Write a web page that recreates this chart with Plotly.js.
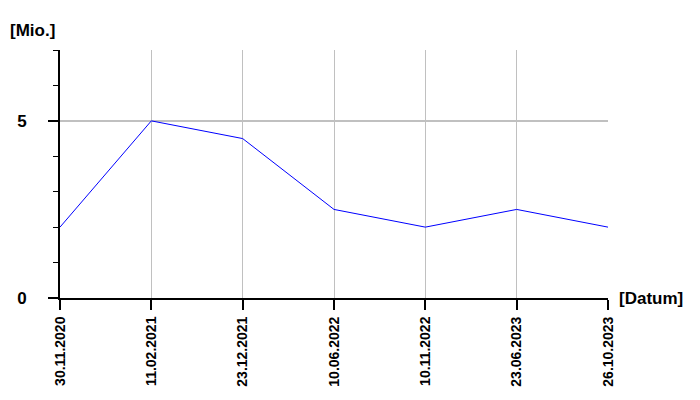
<!DOCTYPE html>
<html><head><meta charset="utf-8">
<script src="https://cdn.plot.ly/plotly-3.0.1.min.js"></script>
<style>body{margin:0;background:#fff}#c{width:700px;height:400px}</style>
</head><body><div id="c"></div>
<script>
const dates = ["30.11.2020","11.02.2021","23.12.2021","10.06.2022","10.11.2022","23.06.2023","26.10.2023"];
const values = [2, 5, 4.5, 2.5, 2, 2.5, 2];
const yUnit = "[Mio.]";
const xUnit = "[Datum]";

const font = "Liberation Sans, Arial, sans-serif";
Plotly.newPlot("c", [{
  x: dates, y: values, type: "scatter", mode: "lines",
  line: {color: "#0000ff", width: 1}, hoverinfo: "none"
}], {
  width: 700, height: 400,
  margin: {l: 60, r: 92, t: 50, b: 102},
  paper_bgcolor: "#fff", plot_bgcolor: "#fff",
  showlegend: false,
  xaxis: {
    type: "category", range: [0, 6], tickangle: -90,
    showgrid: true, gridcolor: "#c0c0c0", gridwidth: 1,
    showline: true, linecolor: "#000", linewidth: 2,
    ticks: "outside", ticklen: 10, tickwidth: 2, tickcolor: "#000",
    ticklabelstandoff: 1,
    tickfont: {family: font, size: 14, color: "#000", weight: "bold"},
    zeroline: false, fixedrange: true
  },
  yaxis: {
    range: [0, 7], dtick: 5, tick0: 0,
    showgrid: true, gridcolor: "#c0c0c0", gridwidth: 2,
    showline: true, linecolor: "#000", linewidth: 2,
    ticks: "outside", ticklen: 10, tickwidth: 2, tickcolor: "#000",
    ticklabelstandoff: 18,
    minor: {dtick: 1, ticks: "outside", ticklen: 5, tickwidth: 1, tickcolor: "#000", showgrid: false},
    tickfont: {family: font, size: 17, color: "#000", weight: "bold"},
    zeroline: false, fixedrange: true
  },
  annotations: [
    {text: yUnit, xref: "paper", yref: "paper", x: -60/548, y: 1 + 20/248, xanchor: "left", yanchor: "middle",
     xshift: 8, showarrow: false, font: {family: font, size: 17, color: "#000", weight: "bold"}},
    {text: xUnit, xref: "paper", yref: "paper", x: 1, y: 0, xanchor: "left", yanchor: "middle",
     xshift: 9, showarrow: false, font: {family: font, size: 17, color: "#000", weight: "bold"}}
  ]
}, {staticPlot: true});
</script></body></html>
